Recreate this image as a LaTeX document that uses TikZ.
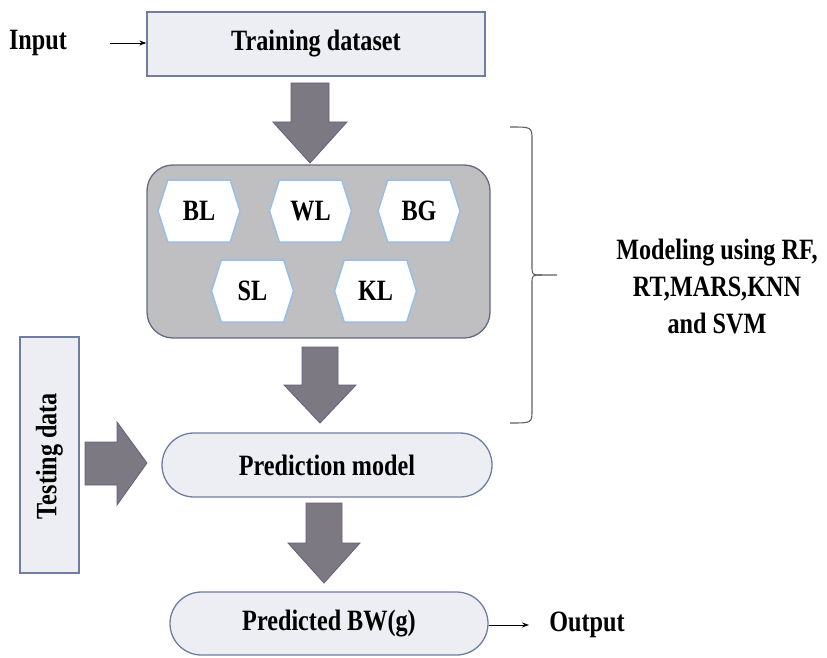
\documentclass[tikz,border=0pt]{standalone}
\usepackage{fontspec}
\usepackage{graphicx}
\setmainfont{Liberation Serif}[BoldFont={Liberation Serif Bold}]
\usetikzlibrary{shapes.symbols,shapes.misc,arrows.meta}
\newcommand{\nt}[1]{\scalebox{0.82}[1]{#1}}
\definecolor{boxfill}{RGB}{237,238,243}
\definecolor{boxline}{RGB}{110,125,160}
\definecolor{grayfill}{RGB}{191,191,194}
\definecolor{grayline}{RGB}{100,108,128}
\definecolor{hexline}{RGB}{150,190,230}
\definecolor{arrfill}{RGB}{124,121,130}
\definecolor{arrline}{RGB}{104,94,126}
\tikzset{
  every node/.style={font=\fontsize{29.5}{37}\selectfont\bfseries, inner sep=0pt},
  lightbox/.style={draw=boxline, fill=boxfill, line width=1.3pt},
  graybox/.style={draw=grayline, fill=grayfill, line width=1.3pt, rounded corners=26pt},
  hexbox/.style={signal, signal to=east and west, signal pointer angle=145,
    draw=hexline, fill=white, line width=1.5pt, minimum width=82pt, minimum height=62pt},
  stadium/.style={rounded rectangle, draw=boxline, fill=boxfill, line width=1.3pt},
  blockarrow/.style={fill=arrfill, draw=arrline, line width=0.8pt},
  thinarrow/.style={-{Stealth[length=7pt,width=5pt]}, line width=0.8pt},
  brace/.style={draw={rgb,255:red,95;green,95;blue,95}, line width=1.1pt}
}
\begin{document}
\begin{tikzpicture}[x=1pt,y=-1pt]
\useasboundingbox (0,0) rectangle (827,658);
% nodes
\node (input) at (38,43) {\nt{Input}};
\node[lightbox, minimum width=338pt, minimum height=64pt] (train) at (316,44) {\nt{Training dataset}};
\node[graybox, minimum width=343pt, minimum height=173pt] (models) at (318.5,251.5) {};
\node[hexbox] (bl) at (199,211) {\nt{BL}};
\node[hexbox] (wl) at (310.5,211) {\nt{WL}};
\node[hexbox] (bg) at (419,211) {\nt{BG}};
\node[hexbox] (sl) at (252.5,291) {\nt{SL}};
\node[hexbox] (kl) at (375.5,291) {\nt{KL}};
\node[stadium, minimum width=330pt, minimum height=64pt] (pred) at (327,465) {\nt{Prediction model}};
\node[stadium, minimum width=318pt, minimum height=63pt] (bw) at (329,623.5) {\nt{Predicted BW(g)}};
\node[lightbox, minimum width=59pt, minimum height=236pt] (test) at (49.5,455) {};
\node[rotate=90] (testtxt) at (49.5,456) {\nt{Testing data}};
\node (output) at (587,625) {\nt{Output}};
\node[align=center] (modeling) at (717,286) {\nt{Modeling using RF,}\\\nt{RT,MARS,KNN}\\\nt{and SVM}};
% thin arrows
\coordinate (inS) at (110,43);
\draw[thinarrow] (inS) -- (train.west |- inS);
\coordinate (outE) at (529,625);
\draw[thinarrow] (bw.east |- outE) -- (outE);
% block arrows
\draw[blockarrow] (291,83) -- (329,83) -- (329,122) -- (347,122) -- (310,163) -- (273,122) -- (291,122) -- cycle;
\draw[blockarrow] (302,347) -- (338,347) -- (338,385) -- (356,385) -- (320,423) -- (284,385) -- (302,385) -- cycle;
\draw[blockarrow] (306,503) -- (342,503) -- (342,543) -- (360,543) -- (324,583) -- (288,543) -- (306,543) -- cycle;
\draw[blockarrow] (85,442) -- (117,442) -- (117,422) -- (147,463) -- (117,505) -- (117,485) -- (85,485) -- cycle;
% brace
\draw[brace] (510,127) .. controls (532,127) .. (532,140) -- (532,266)
  .. controls (532,275) .. (542,275) -- (557,275);
\draw[brace] (542,275) .. controls (532,275) .. (532,284) -- (532,410)
  .. controls (532,423) .. (510,423);
\end{tikzpicture}
\end{document}
